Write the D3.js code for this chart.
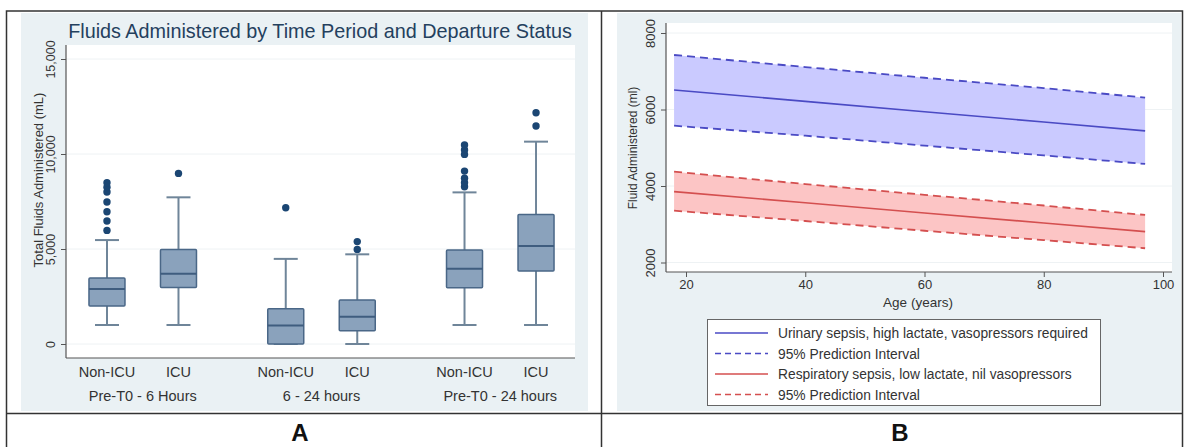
<!DOCTYPE html>
<html><head><meta charset="utf-8">
<script src="https://cdn.jsdelivr.net/npm/d3@7"></script>
<style>body{margin:0;background:#fff}svg{display:block}text{font-family:"Liberation Sans",Arial,sans-serif}</style>
</head><body>
<svg id="c" width="1188" height="447"></svg>
<script>
// ---------- Panel A data ----------
const groups = ["Pre-T0 - 6 Hours", "6 - 24 hours", "Pre-T0 - 24 hours"];
const statuses = ["Non-ICU", "ICU"];
const boxLow  = [1000, 1000, 0,    0,    1000, 1000];
const boxQ1   = [2000, 2980, 0,    700,  2960, 3840];
const boxMed  = [2890, 3700, 980,  1440, 3960, 5160];
const boxQ3   = [3470, 4980, 1860, 2320, 4950, 6820];
const boxHigh = [5470, 7720, 4480, 4720, 7980, 10650];
const outliers = [
  [5980, 6470, 6960, 7470, 8000, 8250, 8490],
  [8980],
  [7170],
  [4980, 5390],
  [8280, 8490, 8720, 9100, 9980, 10210, 10470],
  [11470, 12170]
];
const yTicksA = [0, 5000, 10000, 15000];

// ---------- Panel B data ----------
const ages = [18, 40, 60, 80, 97];
const blueMid = [6510, 6213, 5943, 5672, 5440];
const blueUp  = [7425, 7110, 6830, 6560, 6310];
const blueLo  = [5577, 5315, 5055, 4800, 4576];
const redMid  = [3852, 3561, 3296, 3032, 2806];
const redUp   = [4374, 4050, 3770, 3490, 3243];
const redLo   = [3355, 3085, 2830, 2585, 2372];
const xTicksB = [20, 40, 60, 80, 100];
const yTicksB = [2000, 4000, 6000, 8000];
const legendLabels = ["Urinary sepsis, high lactate, vasopressors required", "95% Prediction Interval",
                      "Respiratory sepsis, low lactate, nil vasopressors", "95% Prediction Interval"];

const svg = d3.select("#c");

// ---------- Panel backgrounds ----------
svg.append("rect").attr("x", 21).attr("y", 13).attr("width", 567).attr("height", 398).attr("fill", "#eaf1f4");
svg.append("rect").attr("x", 617).attr("y", 13).attr("width", 564).attr("height", 398).attr("fill", "#eaf1f4");

// ================= Panel A =================
const xA = d3.scaleLinear().domain([-0.573, 6.545]).range([66, 575]);
const yA = d3.scaleLinear().domain([0, 15000]).range([344, 59]);
const plotTopA = 45, plotBotA = 358;
svg.append("rect").attr("x", 66).attr("y", plotTopA).attr("width", 509).attr("height", plotBotA - plotTopA).attr("fill", "#fff");
svg.append("text").attr("x", 320).attr("y", 38).attr("text-anchor", "middle")
  .attr("font-size", 19.8).attr("fill", "#24405e").text("Fluids Administered by Time Period and Departure Status");

// grid
svg.append("g").selectAll("line").data(yTicksA).join("line")
  .attr("x1", 66).attr("x2", 575).attr("y1", d => yA(d)).attr("y2", d => yA(d))
  .attr("stroke", "#eef2f4").attr("stroke-width", 1);

// y axis
const gyA = svg.append("g").attr("transform", "translate(66,0)")
  .call(d3.axisLeft(yA).tickValues(yTicksA).tickSize(5).tickFormat(d3.format(",")));
gyA.select(".domain").remove();
gyA.selectAll("line").attr("stroke", "#555");
gyA.selectAll("text").attr("font-size", 12.5).attr("fill", "#333").attr("x", 0).attr("dy", 0)
  .attr("text-anchor", "middle").attr("transform", "translate(-11,0) rotate(-90)");
svg.append("line").attr("x1", 66).attr("x2", 66).attr("y1", plotTopA).attr("y2", plotBotA).attr("stroke", "#555").attr("stroke-width", 1.2);
svg.append("line").attr("x1", 66).attr("x2", 575).attr("y1", plotBotA).attr("y2", plotBotA).attr("stroke", "#555").attr("stroke-width", 1.2);
svg.append("text").attr("transform", "translate(43,180) rotate(-90)").attr("text-anchor", "middle")
  .attr("font-size", 13).attr("fill", "#333").text("Total Fluids Administered (mL)");

// boxes
const idx = d3.range(6);
const slot = i => Math.floor(i / 2) * 2.5 + (i % 2);
const bw = 36;
const gB = svg.append("g");
idx.forEach(i => {
  const cx = xA(slot(i));
  gB.append("line").attr("x1", cx).attr("x2", cx).attr("y1", yA(boxHigh[i])).attr("y2", yA(boxQ3[i])).attr("stroke", "#6f8599").attr("stroke-width", 2);
  gB.append("line").attr("x1", cx).attr("x2", cx).attr("y1", yA(boxQ1[i])).attr("y2", yA(boxLow[i])).attr("stroke", "#6f8599").attr("stroke-width", 2);
  gB.append("line").attr("x1", cx - 12).attr("x2", cx + 12).attr("y1", yA(boxHigh[i])).attr("y2", yA(boxHigh[i])).attr("stroke", "#6f8599").attr("stroke-width", 2);
  gB.append("line").attr("x1", cx - 12).attr("x2", cx + 12).attr("y1", yA(boxLow[i])).attr("y2", yA(boxLow[i])).attr("stroke", "#6f8599").attr("stroke-width", 2);
  gB.append("rect").attr("x", cx - bw / 2).attr("y", yA(boxQ3[i])).attr("width", bw)
    .attr("height", yA(boxQ1[i]) - yA(boxQ3[i])).attr("fill", "#8aa2bc").attr("stroke", "#4a6787").attr("stroke-width", 1.5).attr("rx", 1);
  gB.append("line").attr("x1", cx - bw / 2).attr("x2", cx + bw / 2).attr("y1", yA(boxMed[i])).attr("y2", yA(boxMed[i])).attr("stroke", "#3f5d7f").attr("stroke-width", 2);
  gB.selectAll(null).data(outliers[i]).join("circle").attr("cx", cx).attr("cy", d => yA(d)).attr("r", 3.7).attr("fill", "#1b4673");
  svg.append("text").attr("x", cx).attr("y", 377).attr("text-anchor", "middle").attr("font-size", 14.5).attr("fill", "#333").text(statuses[i % 2]);
});
groups.forEach((g, j) => {
  const cx = (xA(slot(2 * j)) + xA(slot(2 * j + 1))) / 2;
  svg.append("text").attr("x", cx).attr("y", 401).attr("text-anchor", "middle").attr("font-size", 14.5).attr("fill", "#333").text(g);
});

// ================= Panel B =================
const xB = d3.scaleLinear().domain([20, 100]).range([686, 1163]);
const yB = d3.scaleLinear().domain([2000, 8000]).range([262.5, 33]);
const pL = 666, pR = 1172, pT = 23, pBt = 272;
svg.append("rect").attr("x", pL).attr("y", pT).attr("width", pR - pL).attr("height", pBt - pT).attr("fill", "#fff");
svg.append("g").selectAll("line").data(yTicksB).join("line")
  .attr("x1", pL).attr("x2", pR).attr("y1", d => yB(d)).attr("y2", d => yB(d)).attr("stroke", "#eef2f4");

const line = d3.line().x((d, i) => xB(ages[i])).y(d => yB(d));
function band(up, lo, mid, fill, col) {
  svg.append("path").datum(up).attr("d", d3.area().x((d, i) => xB(ages[i])).y0((d, i) => yB(lo[i])).y1(d => yB(d))).attr("fill", fill);
  svg.append("path").datum(up).attr("d", line).attr("fill", "none").attr("stroke", col).attr("stroke-width", 1.8).attr("stroke-dasharray", "8,5");
  svg.append("path").datum(lo).attr("d", line).attr("fill", "none").attr("stroke", col).attr("stroke-width", 1.8).attr("stroke-dasharray", "8,5");
  svg.append("path").datum(mid).attr("d", line).attr("fill", "none").attr("stroke", col).attr("stroke-width", 1.6);
}
band(blueUp, blueLo, blueMid, "#cacaff", "#4a4ac4");
band(redUp, redLo, redMid, "#fcc5c5", "#d44f4f");

// axes B
svg.append("line").attr("x1", pL).attr("x2", pL).attr("y1", pT).attr("y2", pBt).attr("stroke", "#555").attr("stroke-width", 1.2);
svg.append("line").attr("x1", pL).attr("x2", pR).attr("y1", pBt).attr("y2", pBt).attr("stroke", "#555").attr("stroke-width", 1.2);
const gxB = svg.append("g").attr("transform", `translate(0,${pBt})`).call(d3.axisBottom(xB).tickValues(xTicksB).tickSize(5));
gxB.select(".domain").remove();
gxB.selectAll("line").attr("stroke", "#555");
gxB.selectAll("text").attr("font-size", 13).attr("fill", "#333").attr("y", 8);
const gyB = svg.append("g").attr("transform", `translate(${pL},0)`).call(d3.axisLeft(yB).tickValues(yTicksB).tickSize(5).tickFormat(d3.format("d")));
gyB.select(".domain").remove();
gyB.selectAll("line").attr("stroke", "#555");
gyB.selectAll("text").attr("font-size", 13).attr("fill", "#333").attr("x", 0).attr("dy", 0)
  .attr("text-anchor", "middle").attr("transform", "translate(-11,0) rotate(-90)");
svg.append("text").attr("x", 918).attr("y", 307).attr("text-anchor", "middle").attr("font-size", 13.5).attr("fill", "#333").text("Age (years)");
svg.append("text").attr("transform", "translate(637,148) rotate(-90)").attr("text-anchor", "middle")
  .attr("font-size", 12).attr("fill", "#333").text("Fluid Administered (ml)");

// legend
svg.append("rect").attr("x", 707.5).attr("y", 319.5).attr("width", 393).attr("height", 86).attr("fill", "#fff").attr("stroke", "#666").attr("stroke-width", 1);
const legCols = ["#4a4ac4", "#4a4ac4", "#d44f4f", "#d44f4f"];
legendLabels.forEach((t, i) => {
  const y = 333 + i * 20.5;
  svg.append("line").attr("x1", 715).attr("x2", 768).attr("y1", y).attr("y2", y).attr("stroke", legCols[i])
    .attr("stroke-width", 1.6).attr("stroke-dasharray", i % 2 ? "6,4" : null);
  svg.append("text").attr("x", 778).attr("y", y + 5).attr("font-size", 13.8).attr("fill", "#333").text(t);
});

// ---------- Table borders & labels ----------
const bc = "#333";
svg.append("rect").attr("x", 6.5).attr("y", 11).attr("width", 1176).attr("height", 440).attr("fill", "none").attr("stroke", bc).attr("stroke-width", 1.5);
svg.append("line").attr("x1", 601.5).attr("x2", 601.5).attr("y1", 11).attr("y2", 447).attr("stroke", bc).attr("stroke-width", 1.5);
svg.append("line").attr("x1", 6).attr("x2", 1183).attr("y1", 413.5).attr("y2", 413.5).attr("stroke", bc).attr("stroke-width", 1.5);
svg.append("text").attr("x", 300).attr("y", 441).attr("text-anchor", "middle").attr("font-family", "Liberation Serif, serif").attr("font-weight", "bold").attr("font-size", 24).attr("fill", "#111").text("A");
svg.append("text").attr("x", 900).attr("y", 441).attr("text-anchor", "middle").attr("font-family", "Liberation Serif, serif").attr("font-weight", "bold").attr("font-size", 24).attr("fill", "#111").text("B");
</script>
</body></html>
